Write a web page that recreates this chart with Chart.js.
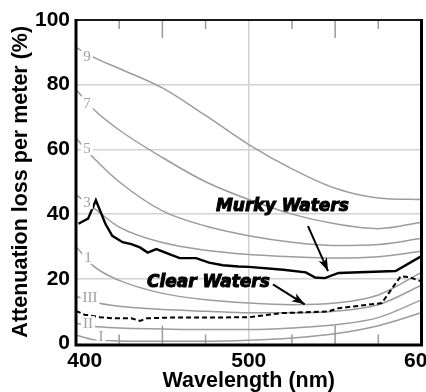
<!DOCTYPE html>
<html>
<head>
<meta charset="utf-8">
<script src="https://cdn.jsdelivr.net/npm/chart.js@4.4.1/dist/chart.umd.min.js"></script>
<style>
  html, body { margin: 0; padding: 0; background: #fff; overflow: hidden; }
  #wrap { width: 426px; height: 392px; }
</style>
</head>
<body>
<div id="wrap"><canvas id="chart"></canvas></div>
<script>
// Jerlov water types: attenuation loss per meter (%) vs wavelength
const wavelengths = [400, 410, 425, 450, 475, 500, 525, 550, 575, 600];
const type9   = [91.5, 88.5, 85, 79, 70.5, 61.5, 54, 48, 45, 44.5];
const type7   = [78.5, 72.5, 66, 57.5, 50, 44.5, 40, 37, 35.5, 37.5];
const type5   = [63.5, 57.5, 50, 41, 36.3, 33.3, 31.3, 30.3, 30.6, 32.5];
const type3   = [46, 42, 36, 31.2, 28.8, 27.5, 26.8, 26.4, 26.8, 28.5];
const type1   = [30, 24, 19.5, 15.5, 13.5, 12.5, 12, 12.5, 15, 22];
const typeIII = [14.6, 12.8, 11.5, 10.5, 10, 9.5, 9.5, 10, 12, 18];
const typeII  = [6.3, 5.3, 4.8, 4.5, 4.3, 4.3, 4.8, 5.8, 8, 13.5];
const typeI   = [2.6, 1.2, 0.8, 0.7, 0.7, 1, 1.7, 3, 5.5, 9.5];

const curveNames = ['9', '7', '5', '3', '1', 'III', 'II', 'I'];
const labelNm    = [406.4, 406.4, 406.4, 406.4, 406.9, 408.1, 406.9, 414.5];
const labelLoss  = [88.9, 74.3, 60.4, 43.7, 26.7, 14.4, 6.3, 2.3];

// measured waters
const murkyNm   = [401.5, 403, 407, 411.5, 417, 421, 427, 432, 437, 441.5, 446.5, 454, 460, 469.5, 477, 485, 494, 500, 520, 533, 538.5, 544, 552, 585, 600];
const murkyLoss = [37, 37.5, 38.6, 44.3, 37, 33.3, 31.3, 30.7, 29.7, 28.1, 29.2, 27.6, 26.4, 26.4, 25, 24.2, 23.8, 23.7, 22.8, 22, 20.4, 20.2, 21.8, 22.4, 27];
const clearNm   = [400, 405, 414, 421, 432, 437, 441, 454, 500, 519, 546, 552, 577, 584.5, 588, 593, 600];
const clearLoss = [10.1, 8.9, 8.1, 7.8, 7.8, 7.0, 7.8, 8.0, 8.1, 9.4, 9.9, 10.9, 12.5, 18.2, 20.8, 20.5, 19.2];

const xTickLabels = [400, 500, 600];
const minorTicks = [425, 450, 475, 525, 550, 575];

// annotation anchors (data units)
const murkyText = [481, 42.2];
const murkyArrow = [534.3, 36.3, 545.9, 22.4];
const clearText = [441.1, 18.7];
const clearArrow = [514, 18.3, 532.4, 12.1];

const grayCurves = [type9, type7, type5, type3, type1, typeIII, typeII, typeI];

function pts(xs, ys) {
    return xs.map((x, i) => ({ x: x, y: ys[i] }));
}

const datasets = [];
// black lines first so they sit on top of the gray ones
datasets.push({
    label: 'Murky Waters',
    data: pts(murkyNm, murkyLoss),
    borderColor: '#000',
    borderWidth: 2.4,
    pointRadius: 0,
    tension: 0
});
datasets.push({
    label: 'Clear Waters',
    data: pts(clearNm, clearLoss),
    borderColor: '#000',
    borderWidth: 2,
    borderDash: [5, 3],
    pointRadius: 0,
    tension: 0
});
grayCurves.forEach((vals, i) => {
    datasets.push({
        label: 'Type ' + curveNames[i],
        data: pts(wavelengths, vals),
        borderColor: '#9c9c9c',
        borderWidth: 1.5,
        pointRadius: 0,
        cubicInterpolationMode: 'monotone'
    });
});

function drawArrow(ctx, x1, y1, x2, y2) {
    ctx.beginPath();
    ctx.moveTo(x1, y1);
    ctx.lineTo(x2, y2);
    ctx.stroke();
    const a = Math.atan2(y2 - y1, x2 - x1);
    const len = 13, w = 4.5;
    const c = Math.cos(a), s = Math.sin(a);
    ctx.beginPath();
    ctx.moveTo(x2, y2);
    ctx.lineTo(x2 - len * c + w * s, y2 - len * s - w * c);
    ctx.lineTo(x2 - len * 0.75 * c, y2 - len * 0.75 * s);
    ctx.lineTo(x2 - len * c - w * s, y2 - len * s + w * c);
    ctx.closePath();
    ctx.fill();
}

const overlay = {
    id: 'overlay',
    afterDatasetsDraw(chart) {
        const ctx = chart.ctx;
        const xs = chart.scales.x, ys = chart.scales.y;
        const area = chart.chartArea;
        ctx.save();

        // curve labels
        ctx.font = '15px "Liberation Serif"';
        ctx.textAlign = 'center';
        ctx.textBaseline = 'middle';
        curveNames.forEach((name, i) => {
            const px = xs.getPixelForValue(labelNm[i]);
            const py = ys.getPixelForValue(labelLoss[i]);
            const w = ctx.measureText(name).width;
            ctx.fillStyle = '#fff';
            ctx.fillRect(px - w / 2 - 2, py - 7, w + 4, 14);
            ctx.fillStyle = '#a0a0a0';
            ctx.fillText(name, px, py + 1);
        });

        // tick marks inside the frame
        ctx.strokeStyle = '#9a9a9a';
        ctx.lineWidth = 1.5;
        minorTicks.forEach(v => {
            const px = xs.getPixelForValue(v);
            const len = v % 50 === 0 ? 18 : 9;
            ctx.beginPath();
            ctx.moveTo(px, area.top);
            ctx.lineTo(px, area.top + len);
            ctx.moveTo(px, area.bottom);
            ctx.lineTo(px, area.bottom - len);
            ctx.stroke();
        });

        // annotations
        ctx.fillStyle = '#000';
        ctx.strokeStyle = '#000';
        ctx.font = 'bold italic 17px "DejaVu Sans"';
        ctx.textAlign = 'left';
        ctx.lineWidth = 1;
        ctx.fillText('Murky Waters', xs.getPixelForValue(murkyText[0]), ys.getPixelForValue(murkyText[1]));
        ctx.strokeText('Murky Waters', xs.getPixelForValue(murkyText[0]), ys.getPixelForValue(murkyText[1]));
        ctx.fillText('Clear Waters', xs.getPixelForValue(clearText[0]), ys.getPixelForValue(clearText[1]));
        ctx.strokeText('Clear Waters', xs.getPixelForValue(clearText[0]), ys.getPixelForValue(clearText[1]));

        ctx.lineWidth = 2;
        drawArrow(ctx,
            xs.getPixelForValue(murkyArrow[0]), ys.getPixelForValue(murkyArrow[1]),
            xs.getPixelForValue(murkyArrow[2]), ys.getPixelForValue(murkyArrow[3]));
        drawArrow(ctx,
            xs.getPixelForValue(clearArrow[0]), ys.getPixelForValue(clearArrow[1]),
            xs.getPixelForValue(clearArrow[2]), ys.getPixelForValue(clearArrow[3]));

        // frame
        ctx.strokeStyle = '#1a1a1a';
        ctx.lineWidth = 2;
        ctx.beginPath();
        ctx.moveTo(area.left, area.top);
        ctx.lineTo(area.right, area.top);
        ctx.stroke();
        ctx.strokeStyle = '#000';
        ctx.lineWidth = 3;
        ctx.beginPath();
        ctx.moveTo(area.right, area.top - 1);
        ctx.lineTo(area.right, area.bottom);
        ctx.moveTo(area.left, area.top - 1);
        ctx.lineTo(area.left, area.bottom + 1.5);
        ctx.lineTo(area.right + 1.5, area.bottom + 1.5);
        ctx.stroke();
        ctx.restore();
    }
};

new Chart(document.getElementById('chart'), {
    type: 'line',
    data: { datasets: datasets },
    plugins: [overlay],
    options: {
        responsive: true,
        maintainAspectRatio: false,
        animation: false,
        layout: { padding: { top: 20, right: 4.5, bottom: 0, left: 0 } },
        plugins: {
            legend: { display: false },
            tooltip: { enabled: false }
        },
        scales: {
            x: {
                type: 'linear',
                min: 400,
                max: 600,
                afterBuildTicks: (scale) => {
                    scale.ticks = xTickLabels.map(v => ({ value: v }));
                },
                afterFit: (scale) => {
                    scale.height = 48.5;
                    scale.paddingLeft = 0;
                    scale.paddingRight = 0;
                },
                border: { display: false },
                grid: {
                    drawTicks: false,
                    lineWidth: 1.5,
                    color: (c) => (c.tick && c.tick.value === 500) ? '#d2d2d2' : 'rgba(0,0,0,0)'
                },
                ticks: {
                    padding: 5,
                    maxRotation: 0,
                    color: '#000',
                    // the first label sits a little right of its tick in the original
                    callback: (v) => (v === 400 ? '   ' + v : '' + v),
                    font: { family: 'Liberation Sans', size: 21, weight: 'bold' }
                },
                title: {
                    display: true,
                    text: 'Wavelength (nm)',
                    color: '#000',
                    padding: 0,
                    font: { family: 'Liberation Sans', size: 21.5, weight: 'bold', lineHeight: 1 }
                }
            },
            y: {
                min: 0,
                max: 100,
                afterFit: (scale) => {
                    scale.width = 76;
                    scale.paddingTop = 0;
                    scale.paddingBottom = 0;
                },
                border: { display: false },
                grid: {
                    drawTicks: false,
                    lineWidth: 1.5,
                    color: (c) => (c.tick && c.tick.value > 0 && c.tick.value < 100) ? '#d2d2d2' : 'rgba(0,0,0,0)'
                },
                ticks: {
                    stepSize: 20,
                    padding: 6,
                    color: '#000',
                    font: { family: 'Liberation Sans', size: 21, weight: 'bold' }
                },
                title: {
                    display: true,
                    text: 'Attenuation loss per meter (%)',
                    color: '#000',
                    padding: { top: 8.5, bottom: 0 },
                    font: { family: 'Liberation Sans', size: 21.5, weight: 'bold', lineHeight: 1.2 }
                }
            }
        }
    }
});
</script>
</body>
</html>
